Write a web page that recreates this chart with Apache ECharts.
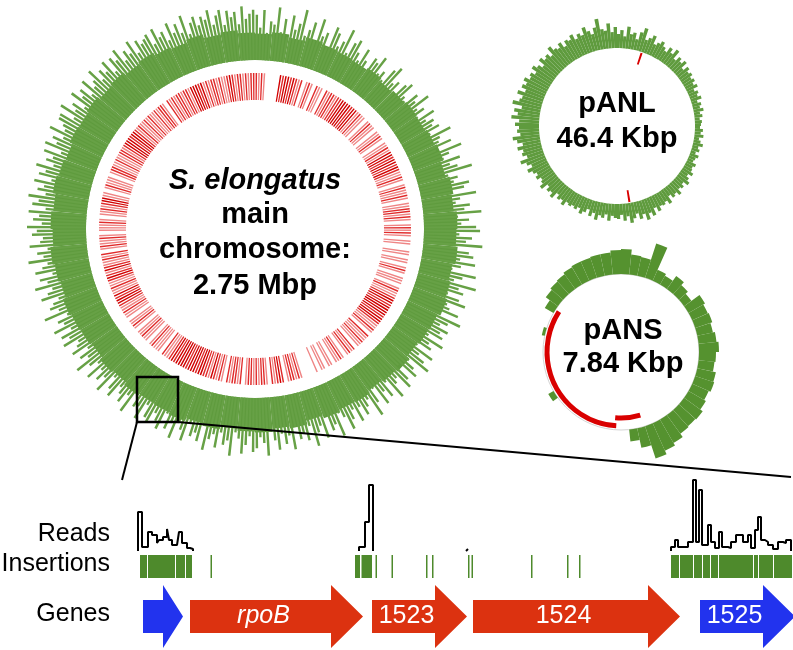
<!DOCTYPE html>
<html><head><meta charset="utf-8">
<script src="https://cdn.jsdelivr.net/npm/echarts@6/dist/echarts.min.js"></script>
<style>html,body{margin:0;padding:0;background:#fff}#c{width:793px;height:650px}</style>
</head><body><div id="c"></div>
<script>
// ---------- DATA ----------
// Main chromosome: read depth per 1-degree bin (clockwise from top) - peaks
const mainReads = [
46,33,51,28,40,37,55,30,44,26,49,35,42,57,31,38,47,29,53,36,41,27,50,45,32,39,54,30,43,48,
36,29,44,33,25,41,38,47,30,35,27,43,49,32,37,26,40,45,31,28,42,36,50,33,39,29,46,34,41,37,
43,31,52,38,35,47,29,55,40,33,49,37,44,58,32,41,36,51,45,30,56,39,34,48,42,59,35,46,38,53,
57,36,49,43,60,34,47,52,39,55,41,33,58,45,37,61,44,50,35,48,56,38,42,53,36,59,47,40,51,44,
49,35,54,40,45,31,52,38,47,56,34,43,50,29,46,53,37,41,55,33,48,39,51,30,44,57,36,42,49,38,
52,37,46,55,40,34,57,43,48,31,53,39,45,58,36,50,42,47,33,56,41,49,38,54,44,35,59,46,40,51,
55,39,48,57,42,36,60,45,50,38,54,41,47,59,35,52,44,49,37,56,46,40,58,43,51,36,55,48,41,53,
50,38,56,44,47,35,58,41,52,45,39,54,48,36,57,43,50,40,55,38,46,59,42,49,37,53,45,41,56,47,
54,41,58,45,50,38,61,44,52,47,40,57,49,43,60,46,53,39,56,48,42,61,45,51,40,58,47,44,55,50,
60,45,54,48,59,42,56,50,61,44,53,47,58,41,55,49,60,43,52,46,57,40,59,48,54,44,61,46,50,57,
58,44,62,47,53,41,60,49,55,43,59,46,51,61,45,54,48,58,42,56,50,60,44,53,47,59,43,55,49,52,
55,42,57,46,50,39,56,44,52,41,58,37,48,53,43,51,47,56,40,49,54,38,52,45,50,37,55,42,47,51
];
// Main chromosome: baseline coverage per 5-degree bin
const mainBase = [
27,29,26,30,28,27, 26,28,25,27,29,28, 30,32,29,33,31,34,
33,35,32,34,36,33, 32,30,33,31,29,32, 31,33,30,34,32,35,
34,32,35,33,36,34, 33,35,32,34,31,33, 34,36,33,35,37,34,
36,34,37,35,33,36, 35,37,34,36,33,35, 32,30,33,29,31,28
];
// Main chromosome: insertion density per 1-degree bin (0 none .. 3 dense)
const mainIns = [
2,1,2,1,0,0,0,0,0,3,2,3,3,2,3,2,1,2,0,1,2,1,0,2,1,1,0,2,1,2,
2,1,2,2,3,3,3,3,2,3,3,1,2,1,1,0,1,2,1,1,0,1,1,2,1,0,1,1,2,1,
3,3,2,3,3,2,3,2,1,1,2,1,0,1,2,1,1,2,1,0,1,1,2,2,1,2,1,0,1,2,
1,2,1,0,1,1,0,0,1,1,0,1,1,0,1,2,1,0,1,1,1,0,1,2,1,1,2,3,3,2,
3,3,3,3,2,3,3,2,1,1,2,1,0,2,1,1,2,1,1,0,2,1,2,1,0,1,2,1,1,0,
1,1,0,1,1,0,1,0,0,0,0,0,1,2,1,2,2,1,0,2,3,2,1,2,0,1,2,2,1,2,
1,2,2,1,0,2,1,2,2,1,2,0,1,2,1,2,3,1,2,2,3,3,2,3,3,3,2,3,3,3,
3,2,3,2,1,1,2,0,1,1,1,2,1,0,1,1,2,1,1,0,1,2,1,1,0,1,1,2,1,1,
2,3,3,2,3,1,1,2,1,1,2,3,2,1,3,2,1,1,2,1,2,0,1,2,1,1,2,1,0,1,
1,1,2,1,0,1,1,2,1,2,3,3,1,1,0,1,2,1,1,1,0,1,2,2,1,1,2,1,1,2,
2,1,2,3,3,3,2,3,3,2,1,2,1,1,2,1,2,1,1,2,1,2,2,1,0,2,1,2,1,2,
2,1,2,2,1,3,3,3,2,3,1,2,1,2,2,1,2,1,1,2,3,2,1,2,2,1,2,1,2,2
];
// pANL: read depth per 2-degree bin
const panlReads = [
14,18,12,22,15,17,11,19,24,13,16,20,12,15,18,
14,11,17,13,19,10,15,12,16,9,14,11,13,10,12,
9,12,7,10,8,11,6,9,7,10,6,8,5,7,6,
5,8,6,9,5,7,10,6,8,5,9,7,6,10,8,
9,12,8,11,14,9,12,10,15,11,13,9,16,12,14,
13,17,12,19,15,21,14,18,12,16,20,13,17,11,15,
14,12,17,11,15,13,18,12,16,10,14,17,12,15,13,
15,13,18,14,16,12,19,15,17,13,20,16,14,18,15,
18,22,16,20,25,17,21,19,24,18,23,27,19,22,20,
24,20,28,22,26,19,29,23,21,27,20,25,22,26,21,
23,19,25,21,17,24,20,22,18,26,21,19,23,17,22,
20,24,18,22,19,26,21,17,23,31,20,18,25,16,21
];
const panlLengthKb = 46.4;
const panlInsKb = [2.4, 22.0];
// pANS: read depth per 6-degree bin
const pansReads = [
25,20,19,36,12,10,16,12,9,19,
17,18,16,18,20,17,16,19,20,18,
20,23,22,23,27,30,34,20,12,0,
0,0,0,0,0,0,0,0,0,6,
0,0,0,0,0,0,0,3,0,0,
10,15,17,18,20,21,21,22,22,24
];
const pansLengthKb = 7.84;
const pansTracks = ['inner', 'outer'];
const pansInsStartKb = [3.55, 4.00];
const pansInsEndKb = [4.03, 6.60];
// Zoomed region (bp)
const regionReadsPos = [2760,2840,2960,3040,3140,3180,3260,3340,3380,3440,3540,3580,3640,3740,3800,3860,
  7180,7300,7380,7460,
  9320,9360,
  13420,13500,13560,13760,13860,13920,13980,14040,14160,14220,14300,14380,14440,14560,14620,14720,14860,14960,15020,15100,15160,15220,15300,15360,15460,15560,15660,15720,15820];
const regionReadsVal = [39,4,19,16,8,11,14,22,11,6,4,19,8,3,2,0,
  4,29,66,0,
  2,0,
  4,11,4,9,71,9,61,6,26,9,3,19,4,3,9,16,9,16,3,21,34,11,9,6,2,9,8,11,0];
const insertionSpans = [[2800,2940],[2960,3500],[3520,3700],[3720,3840],[4210,4240],
  [7100,7200],[7230,7440],[7510,7540],[7830,7860],[8520,8550],[8640,8670],[9360,9390],[9430,9460],
  [10620,10650],[11340,11370],[11580,11610],
  [13420,13580],[13600,13860],[13880,14040],[14060,14200],[14220,14360],[14380,15060],[15080,15160],[15180,15460],[15480,15840]];
const geneNames = ['', 'rpoB', '1523', '1524', '1525'];
const geneStart = [2860, 3800, 7440, 9460, 14000];
const geneEnd = [3660, 7260, 9340, 13600, 15900];
const geneEssential = [false, true, true, true, false];
const regionEndBp = 15860;

// ---------- STYLES ----------
const GREEN = '#5f9b3e', GREEN_SPIKE = '#67a146', GREEN_P = '#55922f', RED = '#d90000';
const insPalette = ['rgba(0,0,0,0)', '#ef8585', '#e02a2a', '#d00000'];
const FONT = '"Liberation Sans", Arial, sans-serif';
const idx = n => Array.from({length: n}, (_, i) => i);

const series = [];
series.push({type:'bar', coordinateSystem:'polar', polarIndex:7, data: mainBase, barCategoryGap:'0%', itemStyle:{color:GREEN}});
series.push({type:'bar', coordinateSystem:'polar', polarIndex:0, data: mainReads, barWidth:'65%', itemStyle:{color:GREEN_SPIKE}});
series.push({type:'bar', coordinateSystem:'polar', polarIndex:1,
  data: mainIns.map(l => ({value: l > 0 ? 1 : 0, itemStyle:{color: insPalette[l]}})), barWidth:'55%'});
series.push({type:'bar', coordinateSystem:'polar', polarIndex:2, data: panlReads, barCategoryGap:'0%', itemStyle:{color:GREEN}});
// pANL insertion ticks (stacked along angle)
let prev = 0; const tickW = 0.2;
panlInsKb.forEach(p => {
  series.push({type:'bar', coordinateSystem:'polar', polarIndex:3, stack:'panl', data:[p - tickW/2 - prev], barWidth:'100%', itemStyle:{color:'rgba(0,0,0,0)'}});
  series.push({type:'bar', coordinateSystem:'polar', polarIndex:3, stack:'panl', data:[tickW], barWidth:'100%', itemStyle:{color:RED}});
  prev = p + tickW/2;
});
series.push({type:'bar', coordinateSystem:'polar', polarIndex:4, data: pansReads, barCategoryGap:'0%', itemStyle:{color:GREEN_P}, z:3});
series.push({type:'bar', coordinateSystem:'polar', polarIndex:5, stack:'pans', data: pansInsStartKb, barWidth:5, itemStyle:{color:'rgba(0,0,0,0)'}});
series.push({type:'bar', coordinateSystem:'polar', polarIndex:5, stack:'pans', data: pansInsEndKb.map((e, i) => e - pansInsStartKb[i]), barWidth:5, itemStyle:{color:RED}});

// Reads step lines, one per contiguous region
let seg = [];
regionReadsPos.forEach((x, i) => {
  const v = regionReadsVal[i];
  if (seg.length === 0) seg.push([x, 0]);
  seg.push([x, v]);
  if (v === 0) {
    series.push({type:'line', xAxisIndex:0, yAxisIndex:0, data: seg, step:'end', symbol:'none', lineStyle:{color:'#000', width:2}});
    seg = [];
  }
});
// Insertions
series.push({type:'custom', xAxisIndex:1, yAxisIndex:1, data: insertionSpans,
  renderItem: (params, api) => {
    const a = api.coord([api.value(0), 1]), b = api.coord([api.value(1), 0]);
    return {type:'rect', shape:{x:a[0], y:a[1], width:Math.max(b[0]-a[0], 1.5), height:b[1]-a[1]}, style:{fill:'#4e8a2c'}};
  }});
// Genes
series.push({type:'custom', xAxisIndex:2, yAxisIndex:2, clip:false,
  data: geneStart.map((s, i) => [s, geneEnd[i], i]),
  renderItem: (params, api) => {
    const i = api.value(2);
    const p0 = api.coord([api.value(0), 0.5]), p1 = api.coord([api.value(1), 0.5]);
    const y = p0[1], head = Math.min(32, (p1[0]-p0[0])/2), hx = p1[0]-head;
    const bh = 16.5, hh = 31.5;
    const col = geneEssential[i] ? '#dc3210' : '#2233ee';
    const ch = [{type:'polygon', shape:{points:[[p0[0],y-bh],[hx,y-bh],[hx,y-hh],[p1[0],y],[hx,y+hh],[hx,y+bh],[p0[0],y+bh]]}, style:{fill:col}}];
    if (geneNames[i]) ch.push({type:'text', x:(p0[0]+hx)/2+3, y:y, style:{text:geneNames[i], fill:'#fff',
      font:(geneNames[i]==='rpoB'?'italic ':'')+'25px '+FONT, align:'center', verticalAlign:'middle'}});
    return {type:'group', children: ch};
  }});

const hiddenAxis = {axisLine:{show:false}, axisTick:{show:false}, axisLabel:{show:false}, splitLine:{show:false}};
const txt = (x, y, t, font, align) => ({type:'text', x, y, z:50, style:{text:t, font, fill:'#000', align: align || 'center', verticalAlign:'middle'}});
const B29 = 'bold 29px ' + FONT;
const ang = (i, extra) => Object.assign({polarIndex:i, startAngle:90, clockwise:true}, hiddenAxis, extra);
const rad = (i, extra) => Object.assign({polarIndex:i}, hiddenAxis, extra);

const option = {
  animation: false,
  backgroundColor: '#fff',
  polar: [
    {center:[255,229], radius:[169,230]},
    {center:[255,229], radius:[129,156]},
    {center:[617,126], radius:[78,112]},
    {center:[617,126], radius:[65,77]},
    {center:[621,352], radius:[78,118]},
    {center:[621,352], radius:[62,78]},
    {center:[621,352], radius:[0,78]},
    {center:[255,229], radius:[169,230]}
  ],
  angleAxis: [
    ang(0, {type:'category', data: idx(360)}),
    ang(1, {type:'category', data: idx(360)}),
    ang(2, {type:'category', data: idx(180)}),
    ang(3, {type:'value', min:0, max:panlLengthKb}),
    ang(4, {type:'category', data: idx(60)}),
    ang(5, {type:'value', min:0, max:pansLengthKb}),
    ang(6, {type:'value', min:0, max:pansLengthKb, axisLine:{show:true, lineStyle:{color:'#d4d4d4', width:1}}}),
    ang(7, {type:'category', data: idx(72)})
  ],
  radiusAxis: [
    rad(0, {type:'value', min:0, max:62}),
    rad(1, {type:'value', min:0, max:1}),
    rad(2, {type:'value', min:0, max:34}),
    rad(3, {type:'category', data:['ins']}),
    rad(4, {type:'value', min:0, max:40}),
    rad(5, {type:'category', data: pansTracks}),
    rad(6, {type:'value', min:0, max:1}),
    rad(7, {type:'value', min:0, max:62})
  ],
  grid: [
    {left:0, right:0, top:476, height:75},
    {left:0, right:0, top:555, height:23},
    {left:0, right:0, top:585, height:63}
  ],
  xAxis: [0,1,2].map(g => Object.assign({gridIndex:g, type:'value', min:0, max:regionEndBp, show:false}, hiddenAxis)),
  yAxis: [
    Object.assign({gridIndex:0, type:'value', min:0, max:75, show:false}, hiddenAxis),
    Object.assign({gridIndex:1, type:'value', min:0, max:1, show:false}, hiddenAxis),
    Object.assign({gridIndex:2, type:'value', min:0, max:1, show:false}, hiddenAxis)
  ],
  graphic: [
    txt(255, 181, 'S. elongatus', 'italic bold 29px ' + FONT),
    txt(255, 215, 'main', B29),
    txt(255, 250, 'chromosome:', B29),
    txt(255, 285.5, '2.75 Mbp', B29),
    txt(617, 104, 'pANL', B29),
    txt(617, 139, '46.4 Kbp', B29),
    txt(623, 331, 'pANS', B29),
    txt(623, 364, '7.84 Kbp', B29),
    txt(110, 534, 'Reads', '25px ' + FONT, 'right'),
    txt(110, 564, 'Insertions', '25px ' + FONT, 'right'),
    txt(110, 614, 'Genes', '25px ' + FONT, 'right'),
    {type:'rect', z:60, shape:{x:137, y:377, width:41, height:45}, style:{fill:'none', stroke:'#000', lineWidth:2.5}},
    {type:'line', z:60, shape:{x1:137, y1:422, x2:122, y2:480}, style:{stroke:'#000', lineWidth:2}},
    {type:'line', z:60, shape:{x1:178, y1:422, x2:791, y2:477}, style:{stroke:'#000', lineWidth:2}}
  ],
  series
};
const chart = echarts.init(document.getElementById('c'));
chart.setOption(option);
</script></body></html>
